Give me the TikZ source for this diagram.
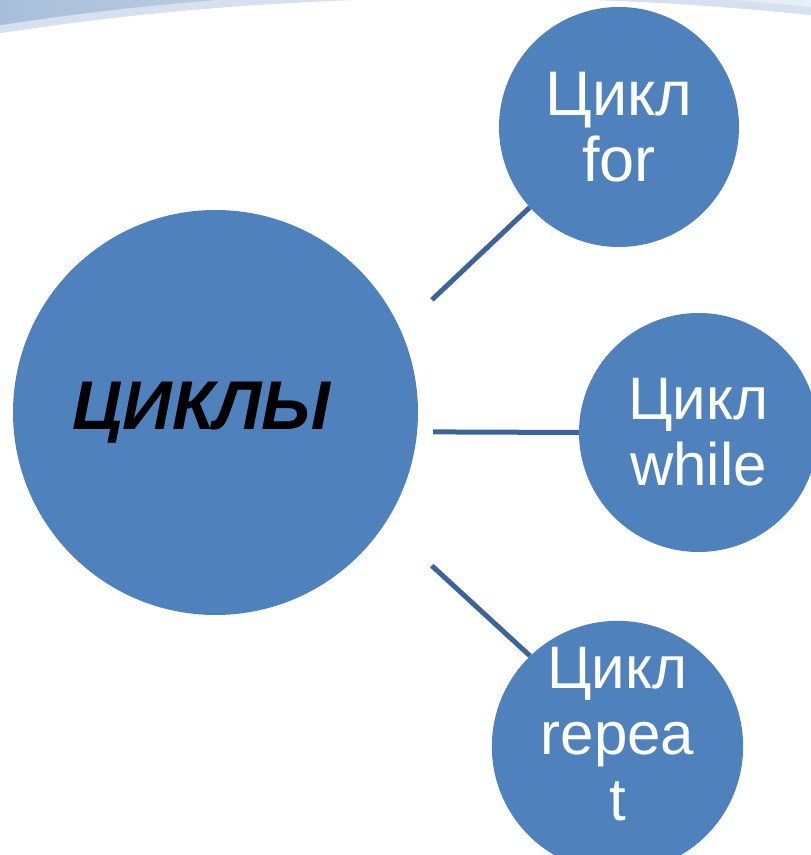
\documentclass[tikz,border=0pt]{standalone}
\usepackage{fontspec}
\setmainfont{Liberation Sans}
\usetikzlibrary{calc,backgrounds}
\definecolor{cblue}{RGB}{79,129,189}
\definecolor{cline}{RGB}{60,100,152}
\definecolor{bandA}{RGB}{168,190,218}
\definecolor{bandB}{RGB}{214,225,239}
\definecolor{bandC}{RGB}{232,239,247}
\begin{document}
\begin{tikzpicture}[x=1pt,y=1pt]
    \tikzstyle{loop} = [circle, fill=cblue, text=white, inner sep=0pt, minimum size=240pt, align=center, font=\fontsize{60}{66}\selectfont]
    \tikzstyle{main} = [circle, fill=cblue, inner sep=0pt, minimum size=405pt, font=\bfseries\itshape\fontsize{69}{74}\selectfont]
    \tikzstyle{link} = [draw=cline, line width=5pt]

    \useasboundingbox (0,0) rectangle (811,855);
    \begin{scope}
        \clip (0,780) rectangle (811,855);
        \shade[left color=bandA, right color=bandC] (0,780) rectangle (811,855);
        \fill[bandB] (475,423) ellipse [x radius=1210, y radius=442];
        \fill[white] (475,423) ellipse [x radius=1200, y radius=434];
    \end{scope}

    \node [main] (cyc) at (215.5,442.5) {ЦИКЛЫ\kern28pt};
    \node [loop, font=\fontsize{63}{66}\selectfont] (cfor) at (619,728) {Цикл\\for};
    \node [loop, minimum size=239pt] (cwhile) at (698.5,422.5) {Цикл\\while};
    \node [loop, minimum size=241pt, text depth=26pt] (crep) at (617.5,108.5) {Цикл\\repea\\t};

    \begin{scope}[on background layer]
        \draw [link] ($(cyc.center)+(27.5:244)$) -- (cfor.222);
        \draw [link] ($(cyc.center)+(-5.1:218.4)$) -- (cwhile.west);
        \draw [link] ($(cyc.center)+(-35.3:265)$) -- (crep.134);
    \end{scope}
\end{tikzpicture}
\end{document}
